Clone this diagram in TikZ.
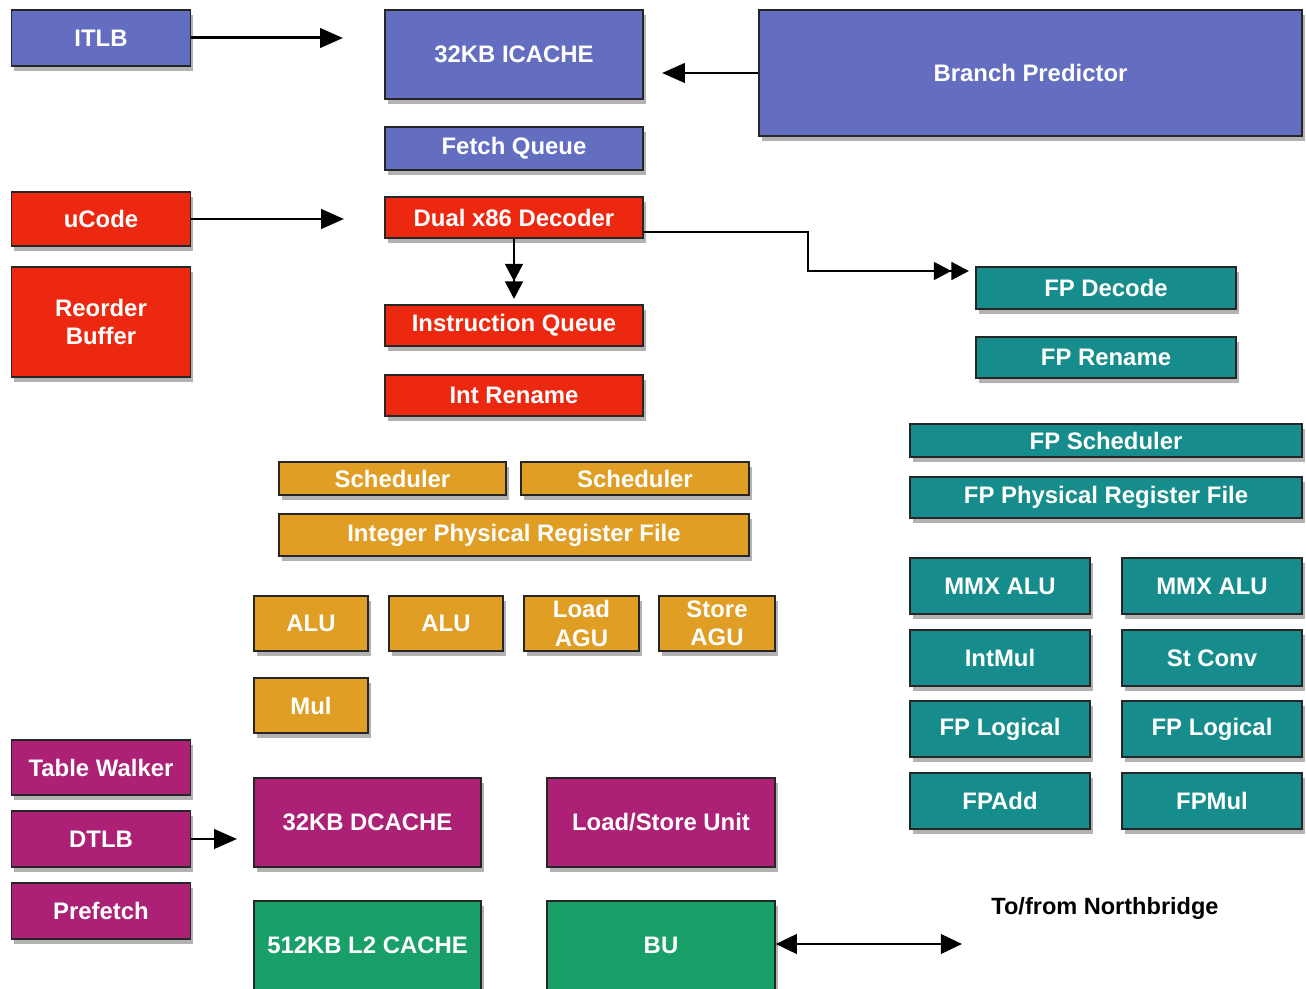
\documentclass[tikz,border=0pt]{standalone}
\usepackage{fontspec}
\setmainfont{Liberation Sans}
\usetikzlibrary{arrows.meta,shadows}
\definecolor{cblue}{RGB}{100,110,192}
\definecolor{cred}{RGB}{236,40,16}
\definecolor{corange}{RGB}{224,158,36}
\definecolor{cteal}{RGB}{22,140,140}
\definecolor{cmag}{RGB}{172,32,118}
\definecolor{cgreen}{RGB}{24,160,104}
\newcommand\blk[7]{\node[box,fill=#6,minimum width=#4*0.02cm,minimum height=#5*0.02cm] (#1) at (#2,#3) {#7};}
\begin{document}
\begin{tikzpicture}[x=0.02cm,y=-0.02cm,
  box/.style={draw=black!85,line width=0.8pt,inner sep=0pt,align=center,text=white,
    font=\fontsize{13.6}{16}\selectfont\bfseries,
    drop shadow={shadow xshift=1.5pt,shadow yshift=-3pt,opacity=0.3,fill=black}},
  arr/.style={line width=1.7pt,-{Triangle[length=13pt,width=11pt]}},
  arrdd/.style={line width=1.7pt,-{Triangle[length=10pt,width=10pt]Triangle[length=10pt,width=10pt]}},
  arrb/.style={line width=1.7pt,{Triangle[length=12pt,width=11pt]}-{Triangle[length=12pt,width=11pt]}},
  lbl/.style={font=\fontsize{13.4}{16}\selectfont\bfseries,text=black,inner sep=0pt}]
\useasboundingbox (0,0) rectangle (1306,989);
% front end
\blk{itlb}{101}{38}{179}{56}{cblue}{ITLB}
\blk{icache}{514}{54.5}{258}{89}{cblue}{32KB ICACHE}
\blk{bp}{1030.5}{73}{543}{126}{cblue}{Branch Predictor}
\blk{fq}{514}{148.5}{258}{43}{cblue}{Fetch Queue}
\blk{ucode}{101}{219}{179}{54}{cred}{uCode}
\blk{rob}{101}{322}{179}{110}{cred}{Reorder\\Buffer}
\blk{dec}{514}{217.5}{258}{41}{cred}{Dual x86 Decoder}
\blk{iq}{514}{325.5}{258}{41}{cred}{Instruction Queue}
\blk{ir}{514}{395.5}{258}{41}{cred}{Int Rename}
% FP
\blk{fpd}{1106}{288}{260}{42}{cteal}{FP Decode}
\blk{fpr}{1106}{357.5}{260}{41}{cteal}{FP Rename}
\blk{fps}{1106}{440.5}{392}{33}{cteal}{FP Scheduler}
\blk{fprf}{1106}{497.5}{392}{41}{cteal}{FP Physical Register File}
\blk{mmx1}{1000}{586}{180}{56}{cteal}{MMX ALU}
\blk{mmx2}{1212}{586}{180}{56}{cteal}{MMX ALU}
\blk{imul}{1000}{658}{180}{56}{cteal}{IntMul}
\blk{stc}{1212}{658}{180}{56}{cteal}{St Conv}
\blk{fpl1}{1000}{729}{180}{56}{cteal}{FP Logical}
\blk{fpl2}{1212}{729}{180}{56}{cteal}{FP Logical}
\blk{fpadd}{1000}{801}{180}{56}{cteal}{FPAdd}
\blk{fpmul}{1212}{801}{180}{56}{cteal}{FPMul}
% integer
\blk{sch1}{392.5}{478.5}{227}{33}{corange}{Scheduler}
\blk{sch2}{635}{478.5}{228}{33}{corange}{Scheduler}
\blk{iprf}{514}{535}{470}{42}{corange}{Integer Physical Register File}
\blk{alu1}{311}{623.5}{114}{55}{corange}{ALU}
\blk{alu2}{446}{623.5}{114}{55}{corange}{ALU}
\blk{lagu}{581.5}{623.5}{115}{55}{corange}{Load\\AGU}
\blk{sagu}{717}{623.5}{116}{55}{corange}{Store\\AGU}
\blk{mul}{311}{705.5}{114}{55}{corange}{Mul}
% memory
\blk{tw}{101}{767.5}{179}{55}{cmag}{Table Walker}
\blk{dtlb}{101}{839}{179}{56}{cmag}{DTLB}
\blk{pf}{101}{911}{179}{56}{cmag}{Prefetch}
\blk{dc}{367.5}{822.5}{227}{89}{cmag}{32KB DCACHE}
\blk{lsu}{661}{822.5}{228}{89}{cmag}{Load/Store Unit}
\blk{l2}{367.5}{945.5}{227}{89}{cgreen}{512KB L2 CACHE}
\blk{bu}{661}{945.5}{228}{89}{cgreen}{BU}
\node[lbl] (nb) at (1105,908) {To/from Northbridge};
% connector ends
\coordinate (itlbT) at (343,38);
\coordinate (bpT) at (662,73);
\coordinate (ucT) at (344,219);
\coordinate (decT) at (514,299);
\coordinate (bend1) at (808,232);
\coordinate (bend2) at (808,271);
\coordinate (fpdT) at (969,271);
\coordinate (dtlbT) at (237,839);
\coordinate (nbT) at (962,944);
% arrows
\draw[arr] (itlb.east) -- (itlbT);
\draw[arr] (bp.west) -- (bpT);
\draw[arr] (ucode.east) -- (ucT);
\draw[arrdd] (dec.south) -- (decT);
\draw[arrdd] (dec.east |- bend1) -- (bend1) -- (bend2) -- (fpdT);
\draw[arr] (dtlb.east) -- (dtlbT);
\draw[arrb] (bu.east |- nbT) -- (nbT);
\end{tikzpicture}
\end{document}
